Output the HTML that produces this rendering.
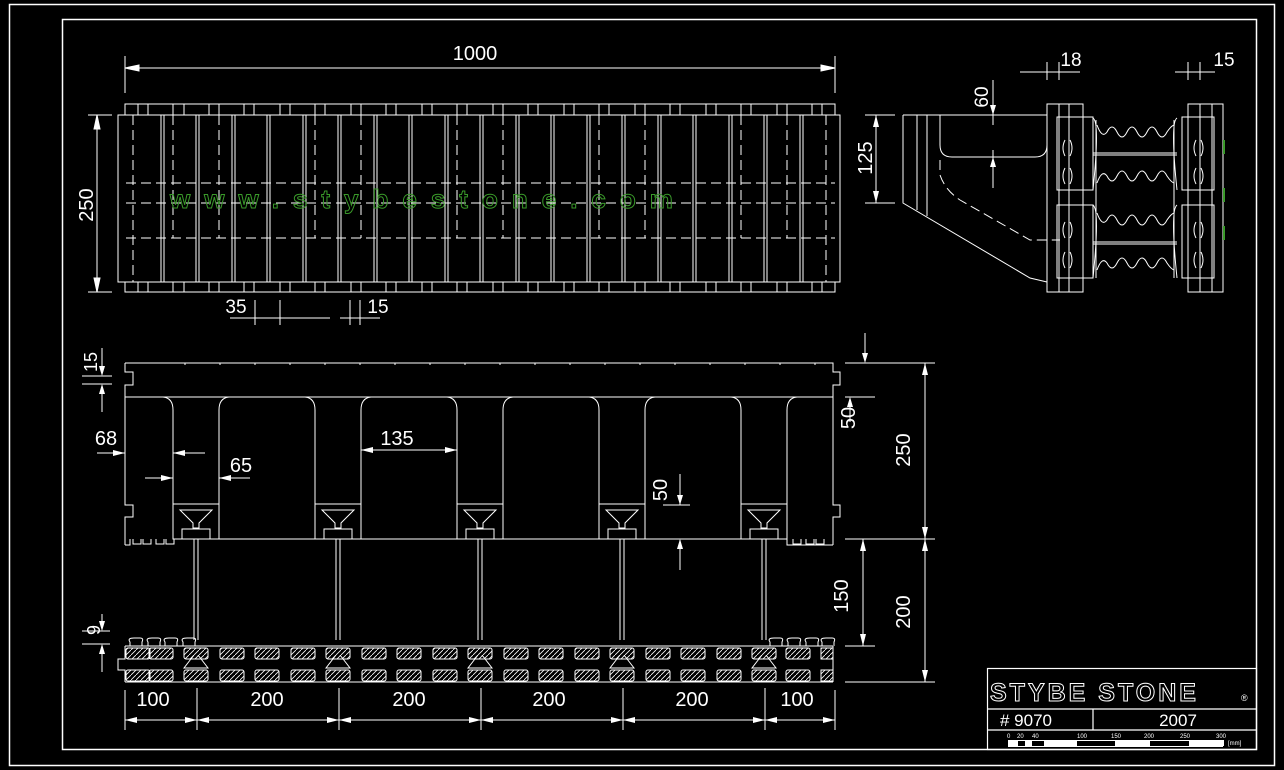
<!DOCTYPE html>
<html><head><meta charset="utf-8"><style>
html,body{margin:0;padding:0;background:#000;}
svg{display:block;}
text{font-family:"Liberation Sans",sans-serif;fill:#fff;}
</style></head><body>
<svg width="1284" height="770" viewBox="0 0 1284 770" xmlns="http://www.w3.org/2000/svg">
<defs>
<pattern id="h" width="5" height="5" patternUnits="userSpaceOnUse"><path d="M-1,6 L6,-1" stroke="#fff" stroke-width="0.8"/></pattern>
<g id="rib" stroke="#fff" fill="none" stroke-width="1">
 <line x1="0" y1="115" x2="0" y2="282"/><line x1="3" y1="115" x2="3" y2="282"/>
</g>
<g id="web" stroke="#fff" fill="none" stroke-width="1">
 <rect x="-23" y="504" width="46" height="35"/>
 <path d="M-16,510 L16,510 L3,523 L3,528 L-3,528 L-3,523 Z"/>
 <rect x="-14" y="529" width="28" height="10"/>
 <line x1="-2" y1="539" x2="-2" y2="640"/><line x1="2" y1="539" x2="2" y2="640"/>
 <path d="M-2,655 L-12,668 L12,668 L2,655"/>
</g>
<g id="blk" stroke="#fff" stroke-width="1" fill="url(#h)">
 <rect x="0" y="648" width="24" height="11" rx="2"/><rect x="0" y="670" width="24" height="11" rx="2"/>
</g>
</defs>
<rect width="1284" height="770" fill="#000"/>
<g stroke="#fff" fill="none" stroke-width="1.5">
 <rect x="9.5" y="4.5" width="1265" height="761"/>
 <rect x="62.5" y="19.5" width="1194" height="730"/>
</g>
<!-- TOP VIEW -->
<g stroke="#fff" fill="none" stroke-width="1">
 <path d="M118,115 L118,282 L125,282 L125,292 L835,292 L835,282 L840,282 L840,115 L835,115 L835,104 L125,104 L125,115 Z"/>
 <path d="M125,115 H835 M125,282 H835"/>
 <path d="M138,104 V115 M148,104 V115 M173,104 V115 M184,104 V115 M209,104 V115 M219,104 V115 M244,104 V115 M254,104 V115 M280,104 V115 M290,104 V115 M315,104 V115 M325,104 V115 M351,104 V115 M361,104 V115 M386,104 V115 M396,104 V115 M422,104 V115 M432,104 V115 M457,104 V115 M467,104 V115 M493,104 V115 M503,104 V115 M528,104 V115 M538,104 V115 M564,104 V115 M574,104 V115 M599,104 V115 M609,104 V115 M635,104 V115 M645,104 V115 M670,104 V115 M680,104 V115 M706,104 V115 M716,104 V115 M741,104 V115 M751,104 V115 M777,104 V115 M787,104 V115 M812,104 V115 M822,104 V115"/>
 <path d="M138,282 V292 M148,282 V292 M173,282 V292 M184,282 V292 M209,282 V292 M219,282 V292 M244,282 V292 M254,282 V292 M280,282 V292 M290,282 V292 M315,282 V292 M325,282 V292 M351,282 V292 M361,282 V292 M386,282 V292 M396,282 V292 M422,282 V292 M432,282 V292 M457,282 V292 M467,282 V292 M493,282 V292 M503,282 V292 M528,282 V292 M538,282 V292 M564,282 V292 M574,282 V292 M599,282 V292 M609,282 V292 M635,282 V292 M645,282 V292 M670,282 V292 M680,282 V292 M706,282 V292 M716,282 V292 M741,282 V292 M751,282 V292 M777,282 V292 M787,282 V292 M812,282 V292 M822,282 V292"/>
</g>
<use href="#rib" x="161"/><use href="#rib" x="196"/><use href="#rib" x="232"/><use href="#rib" x="267"/><use href="#rib" x="303"/><use href="#rib" x="338"/><use href="#rib" x="374"/><use href="#rib" x="409"/><use href="#rib" x="445"/><use href="#rib" x="480"/><use href="#rib" x="516"/><use href="#rib" x="551"/><use href="#rib" x="587"/><use href="#rib" x="622"/><use href="#rib" x="658"/><use href="#rib" x="693"/><use href="#rib" x="729"/><use href="#rib" x="764"/><use href="#rib" x="800"/>
<g stroke="#fff" fill="none" stroke-width="1" stroke-dasharray="10,5">
 <path d="M126,183 H835 M126,203 H835 M126,238 H835"/>
 <path d="M133,115 V282 M173,115 V238 M219,115 V238 M315,115 V238 M361,115 V238 M457,115 V238 M503,115 V238 M599,115 V238 M645,115 V238 M741,115 V238 M787,115 V238 M826,115 V282"/>
</g>
<text x="170" y="208" font-weight="bold" font-size="26" letter-spacing="14" style="fill:none;stroke:#3a9a2a;stroke-width:1">www.stybestone.com</text>
<!-- top view dims -->
<g stroke="#fff" fill="#fff" stroke-width="1">
 <path d="M125,56 V93 M835,56 V93 M125,68 H835" fill="none"/>
 <path d="M125,68 l14,-3 v6z M835,68 l-14,-3 v6z"/>
 <path d="M88,115 H112 M88,292 H112 M97,115 V292" fill="none"/>
 <path d="M97,115 l-3,14 h6z M97,292 l-3,-14 h6z"/>
 <path d="M255,300 V325 M280,300 V325 M230,318 H330 M350,300 V325 M360,300 V325 M340,318 H380" fill="none"/>
</g>
<text x="475" y="60" font-size="20" text-anchor="middle">1000</text>
<text x="93" y="205" font-size="20" text-anchor="middle" transform="rotate(-90 93 205)">250</text>
<text x="236" y="313" font-size="19" text-anchor="middle">35</text>
<text x="378" y="313" font-size="19" text-anchor="middle">15</text>
<!-- SIDE VIEW -->
<g stroke="#fff" fill="none" stroke-width="1">
 <path d="M903,115 H1047 M903,115 V203 L1030,278 L1047,282"/>
 <path d="M917,115 V210 M927,115 V216"/>
 <path d="M940,115 V145 Q940,157 952,157 H1035 Q1047,157 1047,145 V115"/>
 <path d="M940,160 V175 Q945,190 960,200 L1030,240 H1060" stroke-dasharray="10,5"/>
 <rect x="1047" y="104" width="36" height="188"/>
 <path d="M1059,104 V292 M1069,104 V292"/>
 <rect x="1057" y="117" width="36" height="73"/><rect x="1057" y="205" width="36" height="73"/>
 <rect x="1188" y="104" width="35" height="188"/>
 <path d="M1200,104 V292 M1212,104 V292"/>
 <rect x="1182" y="117" width="32" height="73"/><rect x="1182" y="205" width="32" height="73"/>
 <path d="M1093,118 Q1100,122 1093,190 M1177,118 Q1170,122 1177,190 M1093,205 Q1100,210 1093,278 M1177,205 Q1170,210 1177,278"/>
 <path d="M1093,153 H1177 M1093,155 H1177 M1093,242 H1177 M1093,244 H1177 M1096,120 V278 M1174,120 V278"/>
 <path d="M1097,125 q5,14 10,7 q5,-10 10,0 q5,10 10,0 q5,-10 10,0 q5,10 10,0 q5,-10 10,0 q5,10 10,0 q4,-6 7,-7"/>
 <path d="M1097,183 q5,-14 10,-7 q5,10 10,0 q5,-10 10,0 q5,10 10,0 q5,-10 10,0 q5,10 10,0 q5,-10 10,0 q4,6 7,7"/>
 <path d="M1097,213 q5,14 10,7 q5,-10 10,0 q5,10 10,0 q5,-10 10,0 q5,10 10,0 q5,-10 10,0 q5,10 10,0 q4,-6 7,-7"/>
 <path d="M1097,270 q5,-14 10,-7 q5,10 10,0 q5,-10 10,0 q5,10 10,0 q5,-10 10,0 q5,10 10,0 q5,-10 10,0 q4,6 7,7"/>
 <path d="M1065,140 q-4,8 0,16 M1070,140 q4,8 0,16 M1065,168 q-4,8 0,16 M1070,168 q4,8 0,16 M1065,222 q-4,8 0,16 M1070,222 q4,8 0,16 M1065,252 q-4,8 0,16 M1070,252 q4,8 0,16"/>
 <path d="M1196,140 q-4,8 0,16 M1201,140 q4,8 0,16 M1196,168 q-4,8 0,16 M1201,168 q4,8 0,16 M1196,222 q-4,8 0,16 M1201,222 q4,8 0,16 M1196,252 q-4,8 0,16 M1201,252 q4,8 0,16"/>
 <path d="M865,115 H895 M865,203 H895 M876,115 V203 M993,80 V125 M993,150 V188 M1047,62 V80 M1059,62 V80 M1020,72 H1080 M1188,62 V80 M1200,62 V80 M1175,72 H1215"/>
</g>
<g fill="#fff"><path d="M876,115 l-3,12 h6z M876,203 l-3,-12 h6z M993,115 l-3,-10 h6z M993,157 l-3,10 h6z"/></g>
<g fill="#3a9a2a"><rect x="1223" y="140" width="2" height="14"/><rect x="1223" y="188" width="2" height="14"/><rect x="1223" y="226" width="2" height="14"/></g>
<text x="872" y="158" font-size="20" text-anchor="middle" transform="rotate(-90 872 158)">125</text>
<text x="988" y="97" font-size="19" text-anchor="middle" transform="rotate(-90 988 97)">60</text>
<text x="1071" y="66" font-size="19" text-anchor="middle">18</text>
<text x="1224" y="66" font-size="19" text-anchor="middle">15</text>
<!-- FRONT VIEW -->
<g stroke="#fff" fill="none" stroke-width="1">
 <path d="M125,363 H833 V372 H840 V385 H833 V505 H840 V517 H833 V545 M125,363 V372 H133 V385 H125 V505 H133 V517 H125 V545 M125,397 H833 M173,539 H787"/>
 <path d="M125,545 H130 V539 M787,539 V545 H833"/>
 <path d="M133,539 v5 h8 v-5 M143,539 v5 h8 v-5 M156,539 v5 h8 v-5 M166,539 v5 h8 v-5 M793,539 v5 h8 v-5 M806,539 v5 h8 v-5 M816,539 v5 h8 v-5"/>
 <path d="M163,397 Q173,398 173,410 V539 M219,539 V410 Q219,398 229,397 M305,397 Q315,398 315,410 V539 M361,539 V410 Q361,398 371,397 M447,397 Q457,398 457,410 V539 M503,539 V410 Q503,398 513,397 M589,397 Q599,398 599,410 V539 M645,539 V410 Q645,398 655,397 M731,397 Q741,398 741,410 V539 M787,539 V410 Q787,398 797,397"/>
 <path d="M185,363 v2 M220,363 v2 M255,363 v2 M290,363 v2 M325,363 v2 M360,363 v2 M395,363 v2 M430,363 v2 M465,363 v2 M500,363 v2 M535,363 v2 M570,363 v2 M605,363 v2 M640,363 v2 M675,363 v2 M710,363 v2 M745,363 v2 M780,363 v2 M815,363 v2"/>
 <path d="M125,646 H833 M125,682 H833 M125,646 V659 H118 V670 H125 V682 M833,646 V682"/>
 <path d="M130,646 v-4 q-3,-4 4,-4 h6 q4,0 2,4 v4 M148,646 v-4 q-3,-4 4,-4 h6 q4,0 2,4 v4 M165,646 v-4 q-3,-4 4,-4 h6 q4,0 2,4 v4 M183,646 v-4 q-3,-4 4,-4 h6 q4,0 2,4 v4 M770,646 v-4 q-3,-4 4,-4 h6 q4,0 2,4 v4 M788,646 v-4 q-3,-4 4,-4 h6 q4,0 2,4 v4 M806,646 v-4 q-3,-4 4,-4 h6 q4,0 2,4 v4 M822,646 v-4 q-3,-4 4,-4 h6 q4,0 2,4 v4"/>
</g>
<use href="#web" x="196"/><use href="#web" x="338"/><use href="#web" x="480"/><use href="#web" x="622"/><use href="#web" x="764"/>
<use href="#blk" x="126"/><use href="#blk" x="149"/><use href="#blk" x="184"/><use href="#blk" x="220"/><use href="#blk" x="255"/><use href="#blk" x="291"/><use href="#blk" x="326"/><use href="#blk" x="362"/><use href="#blk" x="397"/><use href="#blk" x="433"/><use href="#blk" x="468"/><use href="#blk" x="504"/><use href="#blk" x="539"/><use href="#blk" x="575"/><use href="#blk" x="610"/><use href="#blk" x="646"/><use href="#blk" x="681"/><use href="#blk" x="717"/><use href="#blk" x="752"/><use href="#blk" x="786"/>
<g stroke="#fff" fill="url(#h)"><rect x="821" y="648" width="12" height="11"/><rect x="821" y="670" width="12" height="11"/></g>
<!-- front dims -->
<g stroke="#fff" fill="none" stroke-width="1">
 <path d="M845,363 H935 M845,397 H875 M845,539 H935 M845,646 H875 M845,682 H935 M925,363 V682 M863,539 V646 M865,333 V353 M850,400 V422 M680,474 V505 M663,505 H690 M680,540 V570"/>
 <path d="M125,690 V730 M197,688 V730 M339,688 V730 M481,688 V730 M623,688 V730 M765,688 V730 M835,690 V730 M125,720 H835"/>
 <path d="M82,376 H112 M82,384 H112 M102,348 V370 M102,390 V412 M82,631 H110 M82,644 H110 M102,614 V628 M102,648 V672"/>
 <path d="M97,453 H125 M145,478 H173 M173,453 H205 M219,478 H250 M361,450 H457"/>
</g>
<g fill="#fff">
 <path d="M925,363 l-3,12 h6z M925,539 l-3,-12 h6z M925,539 l-3,12 h6z M925,682 l-3,-12 h6z M863,539 l-3,12 h6z M863,646 l-3,-12 h6z M865,363 l-3,-10 h6z M850,397 l-3,10 h6z M680,505 l-3,-10 h6z M680,539 l-3,10 h6z"/>
 <path d="M102,376 l-3,-10 h6z M102,384 l-3,10 h6z M102,644 l-3,10 h6z M102,631 l-3,-10 h6z"/>
 <path d="M125,453 l-12,-3 v6z M173,478 l-12,-3 v6z M173,453 l12,-3 v6z M219,478 l12,-3 v6z M361,450 l12,-3 v6z M457,450 l-12,-3 v6z"/>
 <path d="M125,720 l12,-3 v6z M197,720 l-12,-3 v6z M197,720 l12,-3 v6z M339,720 l-12,-3 v6z M339,720 l12,-3 v6z M481,720 l-12,-3 v6z M481,720 l12,-3 v6z M623,720 l-12,-3 v6z M623,720 l12,-3 v6z M765,720 l-12,-3 v6z M765,720 l12,-3 v6z M835,720 l-12,-3 v6z"/>
</g>
<g font-size="20" text-anchor="middle">
 <text x="153" y="706">100</text><text x="267" y="706">200</text><text x="409" y="706">200</text><text x="549" y="706">200</text><text x="692" y="706">200</text><text x="797" y="706">100</text>
 <text x="910" y="450" transform="rotate(-90 910 450)">250</text>
 <text x="910" y="612" transform="rotate(-90 910 612)">200</text>
 <text x="848" y="596" transform="rotate(-90 848 596)">150</text>
 <text x="855" y="418" transform="rotate(-90 855 418)">50</text>
 <text x="667" y="490" transform="rotate(-90 667 490)">50</text>
 <text x="397" y="445">135</text><text x="241" y="472">65</text><text x="106" y="445">68</text>
 <text x="97" y="362" font-size="18" transform="rotate(-90 97 362)">15</text>
 <text x="100" y="630" font-size="18" transform="rotate(-90 100 630)">9</text>
</g>
<!-- title block -->
<g stroke="#fff" fill="none" stroke-width="1.2">
 <rect x="987.5" y="668.5" width="269" height="81"/>
 <path d="M987,709 H1257 M987,730 H1257 M1093,709 V730"/>
</g>
<text x="990" y="701" font-size="25" font-weight="bold" letter-spacing="3" style="fill:none;stroke:#fff;stroke-width:1">STYBE STONE</text>
<text x="1241" y="701" font-size="9">®</text>
<text x="1000" y="726" font-size="17">#  9070</text>
<text x="1178" y="726" font-size="17" text-anchor="middle">2007</text>
<g fill="#fff"><rect x="1008" y="740" width="10" height="6"/><rect x="1025" y="740" width="7" height="6"/><rect x="1044" y="740" width="33" height="6"/><rect x="1115" y="740" width="35" height="6"/><rect x="1189" y="740" width="35" height="6"/></g>
<rect x="1008.5" y="740.5" width="214" height="6" stroke="#fff" fill="none"/>
<g font-size="6"><text x="1007" y="738">0</text><text x="1017" y="738">20</text><text x="1032" y="738">40</text><text x="1077" y="738">100</text><text x="1111" y="738">150</text><text x="1144" y="738">200</text><text x="1180" y="738">250</text><text x="1216" y="738">300</text><text x="1228" y="745">[mm]</text></g>
</svg>
</body></html>
